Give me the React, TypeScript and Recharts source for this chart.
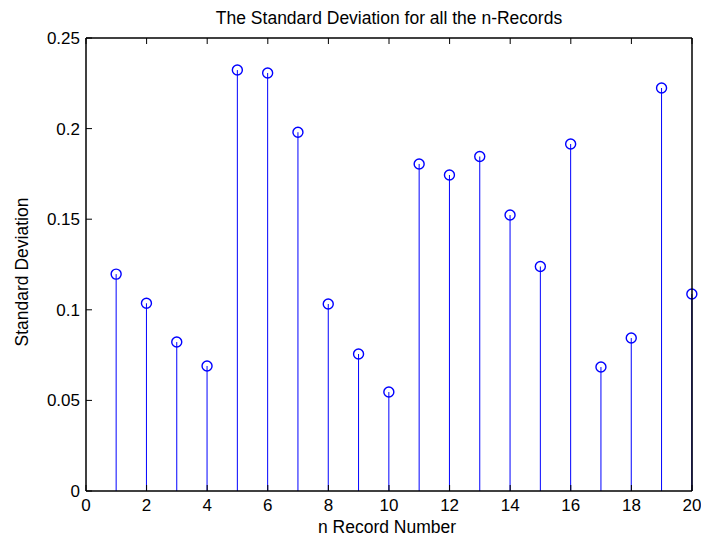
import React from 'react';
import {
  ComposedChart,
  Bar,
  XAxis,
  YAxis,
} from 'recharts';

const recordNumbers = [1, 2, 3, 4, 5, 6, 7, 8, 9, 10, 11, 12, 13, 14, 15, 16, 17, 18, 19, 20];
const stdValues = [
  0.1197, 0.1036, 0.0822, 0.0690, 0.2323, 0.2307, 0.1980, 0.1032, 0.0756, 0.0546,
  0.1805, 0.1744, 0.1846, 0.1523, 0.1239, 0.1915, 0.0684, 0.0844, 0.2224, 0.1087,
];
const xTicks = [0, 2, 4, 6, 8, 10, 12, 14, 16, 18, 20];
const yTicks = [0, 0.05, 0.1, 0.15, 0.2, 0.25];

const data = recordNumbers.map((n, i) => ({ n, std: stdValues[i] }));

const FONT = '"Liberation Sans", Arial, sans-serif';
const STEM = '#0000ff';
const TICK_LEN = 6;

// stem plot: vertical line from the baseline up to the value, open circle on top
function Stem(props: any) {
  const { x, y, width, height } = props;
  const cx = x + width / 2;
  return (
    <g>
      <line x1={cx} y1={y + height} x2={cx} y2={y} stroke={STEM} strokeWidth={1} />
      <circle cx={cx} cy={y} r={5} fill="none" stroke={STEM} strokeWidth={1.4} />
    </g>
  );
}

// matlab style ticks point into the plot box
function BottomTick(props: any) {
  const { x, y, payload } = props;
  return (
    <g>
      <line x1={x} y1={y} x2={x} y2={y - TICK_LEN} stroke="#000" />
      <text x={x} y={y + 20} textAnchor="middle" style={tickStyle}>
        {payload.value}
      </text>
    </g>
  );
}

function LeftTick(props: any) {
  const { x, y, payload } = props;
  return (
    <g>
      <line x1={x} y1={y} x2={x + TICK_LEN} y2={y} stroke="#000" />
      <text x={x - 6} y={y + 6} textAnchor="end" style={tickStyle}>
        {payload.value}
      </text>
    </g>
  );
}

function TopTick(props: any) {
  const { x, y } = props;
  return <line x1={x} y1={y} x2={x} y2={y + TICK_LEN} stroke="#000" />;
}

function RightTick(props: any) {
  const { x, y } = props;
  return <line x1={x} y1={y} x2={x - TICK_LEN} y2={y} stroke="#000" />;
}

const tickStyle = { fontFamily: FONT, fontSize: 17, fill: '#000' };
const labelStyle = { fontFamily: FONT, fontSize: 17.5, fill: '#000' };
const axisLine = { stroke: '#000', strokeWidth: 1.5 };

export default function App() {
  return (
    <div style={{ position: 'absolute', left: 0, top: 0, width: 701, height: 538, background: '#fff' }}>
      <ComposedChart
        width={701}
        height={538}
        data={data}
        margin={{ top: 37, right: 8, bottom: 0, left: 0 }}
      >
        <text x={389} y={24} textAnchor="middle" style={labelStyle}>
          The Standard Deviation for all the n-Records
        </text>
        <text x={387} y={533} textAnchor="middle" style={labelStyle}>
          n Record Number
        </text>
        <text
          x={28}
          y={272}
          textAnchor="middle"
          transform="rotate(-90 28 272)"
          style={labelStyle}
        >
          Standard Deviation
        </text>
        <XAxis
          dataKey="n"
          type="number"
          domain={[0, 20]}
          ticks={xTicks}
          height={47}
          tickSize={0}
          tickMargin={0}
          tickLine={false}
          tick={BottomTick}
          axisLine={axisLine}
        />
        <XAxis
          xAxisId="top"
          orientation="top"
          dataKey="n"
          type="number"
          domain={[0, 20]}
          ticks={xTicks}
          height={1}
          tickSize={0}
          tickMargin={0}
          tickLine={false}
          tick={TopTick}
          axisLine={axisLine}
        />
        <YAxis
          type="number"
          domain={[0, 0.25]}
          ticks={yTicks}
          width={86}
          tickSize={0}
          tickMargin={0}
          tickLine={false}
          tick={LeftTick}
          axisLine={axisLine}
        />
        <YAxis
          yAxisId="right"
          orientation="right"
          type="number"
          domain={[0, 0.25]}
          ticks={yTicks}
          width={1}
          tickSize={0}
          tickMargin={0}
          tickLine={false}
          tick={RightTick}
          axisLine={axisLine}
        />
        <Bar
          dataKey="std"
          barSize={2}
          shape={<Stem />}
          isAnimationActive={false}
        />
      </ComposedChart>
    </div>
  );
}
